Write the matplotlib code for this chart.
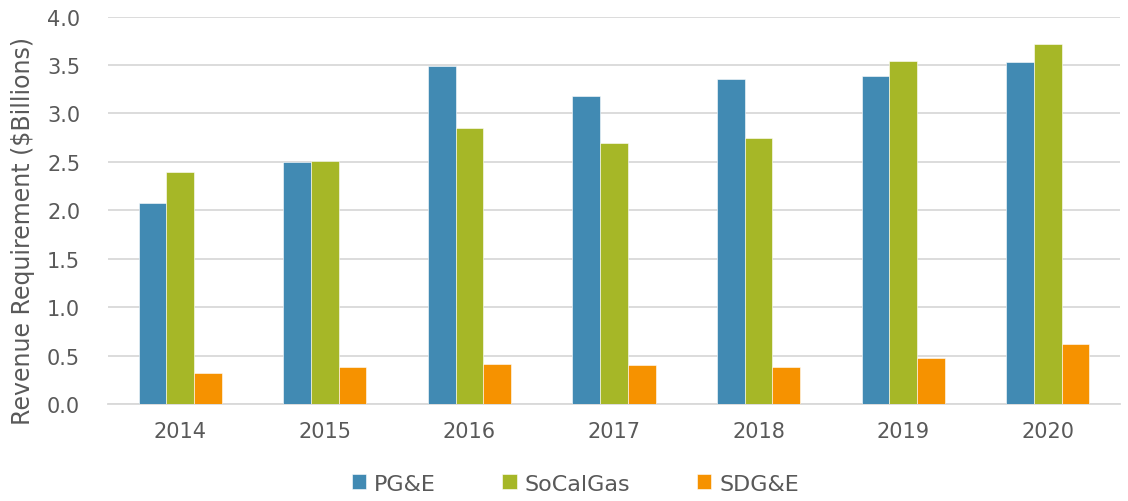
import numpy as np
import matplotlib.pyplot as plt

years = ['2014', '2015', '2016', '2017', '2018', '2019', '2020']
pge = [2.08, 2.50, 3.49, 3.18, 3.35, 3.39, 3.53]
socalgas = [2.40, 2.51, 2.85, 2.69, 2.75, 3.54, 3.72]
sdge = [0.32, 0.38, 0.41, 0.40, 0.38, 0.48, 0.62]

series = [('PG&E', pge, '#418AB3'),
          ('SoCalGas', socalgas, '#A6B727'),
          ('SDG&E', sdge, '#F69200')]

plt.rcParams['font.family'] = ['DejaVu Sans']
text_color = '#595959'

fig = plt.figure(figsize=(11.28, 5.02), dpi=100)
ax = fig.add_axes([108 / 1128, 1 - 405 / 502, 1012 / 1128, 387.5 / 502])

x = np.arange(len(years))
w = 0.192
for i, (name, vals, col) in enumerate(series):
    ax.bar(x + (i - 1) * w, vals, w, color=col, label=name, zorder=3,
           edgecolor='white', linewidth=0.4)

ax.set_xlim(-0.5, len(years) - 0.5)
ax.set_ylim(0, 4.0)
ax.set_yticks(np.arange(0, 4.01, 0.5))
ax.set_yticklabels(['%.1f' % v for v in np.arange(0, 4.01, 0.5)])
ax.set_xticks(x)
ax.set_xticklabels(years)
ax.yaxis.grid(True, color='#D9D9D9', linewidth=1.3, zorder=0)
ax.tick_params(length=0, labelsize=15, colors=text_color)
ax.tick_params(axis='y', pad=20)
ax.tick_params(axis='x', pad=12)
for s in ['top', 'right', 'left']:
    ax.spines[s].set_visible(False)
ax.spines['bottom'].set_color('#D9D9D9')
ax.spines['bottom'].set_linewidth(1.3)

ax.set_ylabel('Revenue Requirement ($Billions)', fontsize=17, color=text_color)
ax.yaxis.set_label_coords(-0.072, 0.45)

fig.legend(loc='lower center', bbox_to_anchor=(0.51, -0.025), ncol=3, frameon=False,
           fontsize=16, labelcolor=text_color, handlelength=0.65, handleheight=0.65,
           handletextpad=0.35, columnspacing=3.0)

fig.savefig('out.png', dpi=100)
